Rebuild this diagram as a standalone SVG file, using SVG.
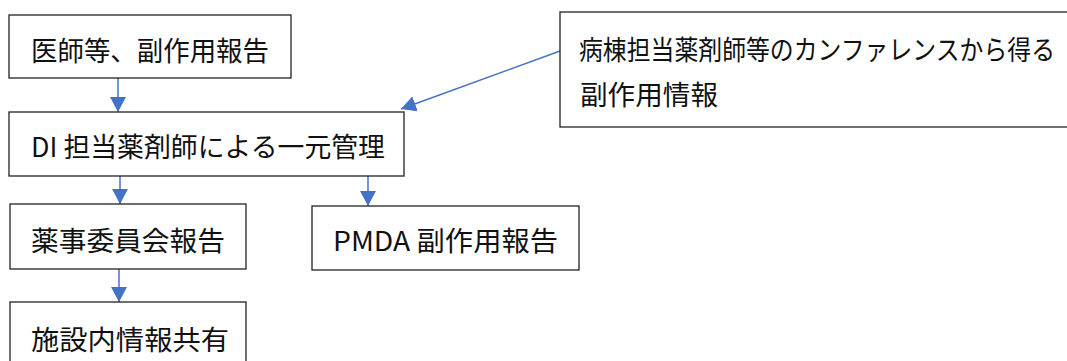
<svg xmlns="http://www.w3.org/2000/svg" width="1067" height="361" viewBox="0 0 1067 361">
<style>
.box{fill:#fff;stroke:#222;stroke-width:1.3}
.t{font-family:"Meiryo UI","Noto Sans CJK JP","Noto Sans",sans-serif;font-size:27px;fill:#111}
.c{stroke:#4472C4;stroke-width:1.5;fill:none}
</style>
<defs>
<marker id="ah" markerUnits="userSpaceOnUse" markerWidth="16" markerHeight="16" refX="15" refY="8" orient="auto">
<path d="M0,0 L15,8 L0,16 Z" fill="#4472C4"/>
</marker>
</defs>
<rect width="1067" height="361" fill="#fff"/>
<g id="connectors">
<line class="c" x1="118" y1="78" x2="118" y2="112" marker-end="url(#ah)"/>
<line class="c" x1="120" y1="176" x2="120" y2="204" marker-end="url(#ah)"/>
<line class="c" x1="368" y1="176" x2="368" y2="206" marker-end="url(#ah)"/>
<line class="c" x1="119" y1="269" x2="119" y2="302" marker-end="url(#ah)"/>
<line class="c" x1="560" y1="51" x2="401" y2="109" marker-end="url(#ah)"/>
</g>
<g id="n1">
<rect class="box" x="9" y="15" width="282" height="63"/>
<text class="t" x="31" y="61" textLength="238" lengthAdjust="spacingAndGlyphs">医師等、副作用報告</text>
</g>
<g id="n2">
<rect class="box" x="9" y="112" width="395" height="64"/>
<text class="t" x="31" y="156.5" textLength="354" lengthAdjust="spacingAndGlyphs">DI 担当薬剤師による一元管理</text>
</g>
<g id="n3">
<rect class="box" x="10" y="204" width="236" height="65"/>
<text class="t" x="31" y="250.5" textLength="194" lengthAdjust="spacingAndGlyphs">薬事委員会報告</text>
</g>
<g id="n4">
<rect class="box" x="10" y="302" width="236" height="70"/>
<text class="t" x="31" y="349.5" textLength="198" lengthAdjust="spacingAndGlyphs">施設内情報共有</text>
</g>
<g id="n5">
<rect class="box" x="312" y="206" width="267" height="64"/>
<text class="t" x="333" y="250.5" textLength="225" lengthAdjust="spacingAndGlyphs">PMDA 副作用報告</text>
</g>
<g id="n6">
<rect class="box" x="560" y="12" width="508" height="115"/>
<text class="t" style="font-size:24px" transform="translate(579,59.5) scale(1,1.12)" x="0" y="0" textLength="476" lengthAdjust="spacingAndGlyphs">病棟担当薬剤師等のカンファレンスから得る</text>
<text class="t" x="580" y="105" textLength="138" lengthAdjust="spacingAndGlyphs">副作用情報</text>
</g>
</svg>
